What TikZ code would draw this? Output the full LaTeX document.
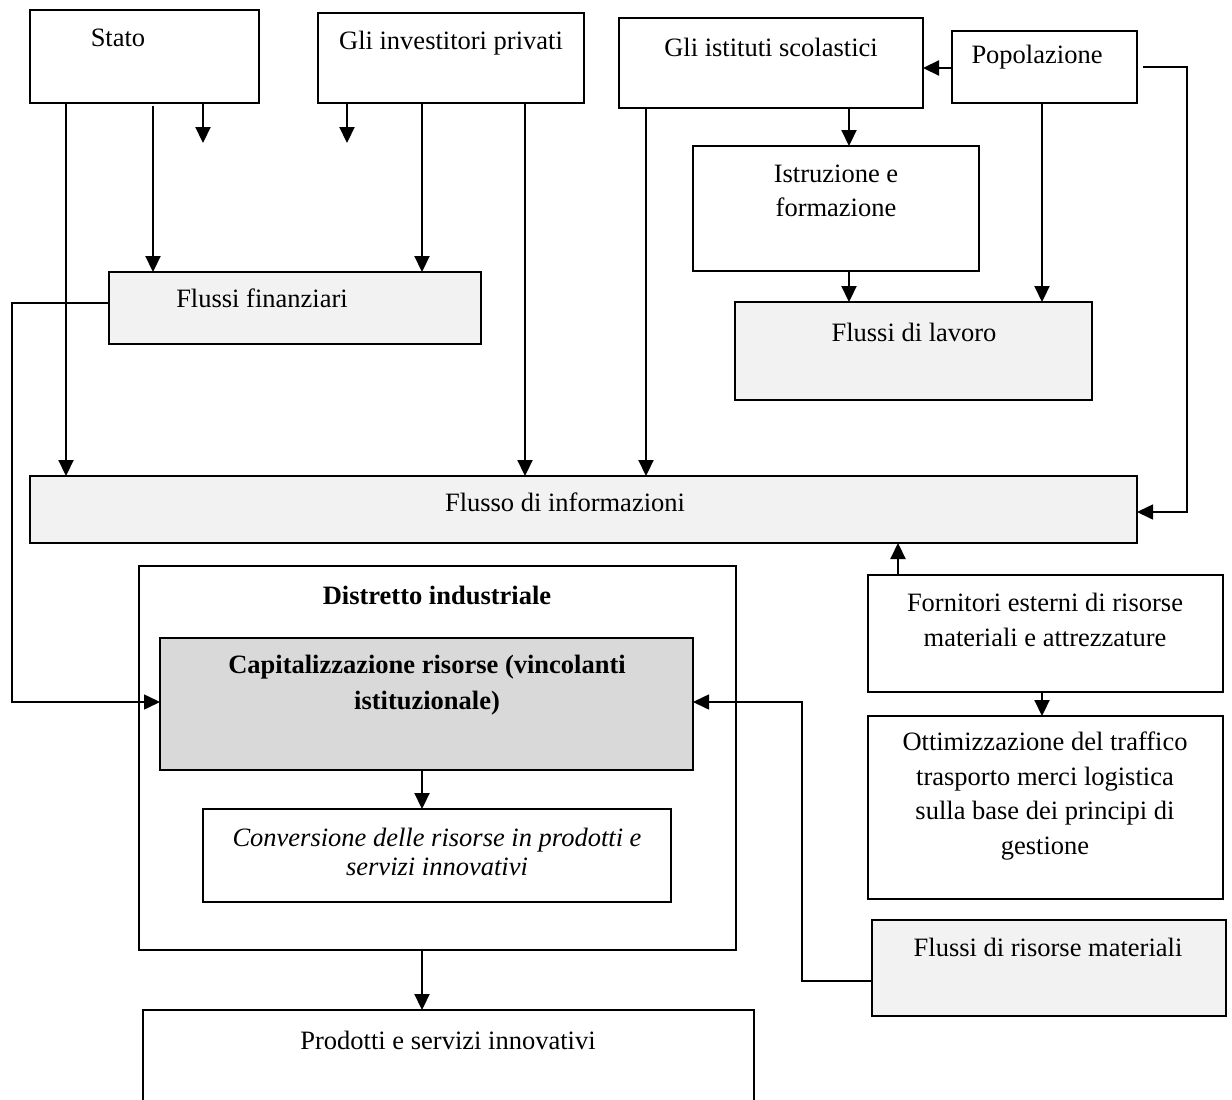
\documentclass[tikz,border=0pt]{standalone}
\usepackage{fontspec}
\setmainfont{Liberation Serif}
\usetikzlibrary{arrows.meta}
\definecolor{lightfill}{HTML}{F2F2F2}
\definecolor{midfill}{HTML}{D9D9D9}
\newcommand{\mybox}[6]{\node[boxst,fill=#6,minimum width={(#4-#2)*1pt},minimum height={(#5-#3)*1pt}] (#1) at ({(#2+#4)/2},{(#3+#5)/2}) {};}
\begin{document}
\begin{tikzpicture}[x=1pt,y=-1pt,
  boxst/.style={draw,line width=1.8pt,inner sep=0pt,outer sep=0pt,rectangle},
  txt/.style={font=\fontsize{26.5}{34.5}\selectfont,align=center,inner sep=0pt},
  arr/.style={line width=2.2pt,-{Triangle[length=16pt,width=15pt]}},
  routearr/.style={line width=1.6pt,-{Triangle[length=16pt,width=15pt]}}]
\useasboundingbox[fill=white] (0,0) rectangle (1232,1100);
\begin{scope}
\clip (0,0) rectangle (1232,1100);
% boxes
\mybox{stato}{30}{10}{259}{103}{white}
\mybox{inv}{318}{13}{584}{103}{white}
\mybox{ist}{619}{18}{923}{108}{white}
\mybox{pop}{952}{31}{1137}{103}{white}
\mybox{istr}{693}{146}{979}{271}{white}
\mybox{ff}{109}{272}{481}{344}{lightfill}
\mybox{fl}{735}{302}{1092}{400}{lightfill}
\mybox{info}{30}{476}{1137}{543}{lightfill}
\mybox{distr}{139}{566}{736}{950}{white}
\mybox{cap}{160}{638}{693}{770}{midfill}
\mybox{conv}{203}{809}{671}{902}{white}
\mybox{prod}{143}{1010}{754}{1120}{white}
\mybox{forn}{868}{575}{1223}{692}{white}
\mybox{ottim}{868}{716}{1223}{899}{white}
\mybox{frm}{872}{920}{1226}{1016}{lightfill}
\end{scope}
% texts
\node[txt] (tstato) at (118,38) {Stato};
\node[txt] (tinv) at (451,43) {Gli investitori privati};
\node[txt] (tist) at (771,47) {Gli istituti scolastici};
\node[txt] (tpop) at (1037,57) {Popolazione};
\node[txt] (tistr) at (836,191) {Istruzione e\\formazione};
\node[txt] (tff) at (262,298) {Flussi finanziari};
\node[txt] (tfl) at (914,332) {Flussi di lavoro};
\node[txt] (tinfo) at (565,502) {Flusso di informazioni};
\node[txt,font=\fontsize{26.5}{36}\selectfont\bfseries] (tdistr) at (437,595) {Distretto industriale};
\node[txt,font=\fontsize{26.5}{36}\selectfont\bfseries] (tcap) at (427,685) {Capitalizzazione risorse (vincolanti\\istituzionale)};
\node[txt,font=\fontsize{26.5}{29}\selectfont\itshape] (tconv) at (437,852) {Conversione delle risorse in prodotti e\\servizi innovativi};
\node[txt] (tprod) at (448,1040) {Prodotti e servizi innovativi};
\node[txt] (tforn) at (1045,620) {Fornitori esterni di risorse\\materiali e attrezzature};
\node[txt] (tottim) at (1045,796) {Ottimizzazione del traffico\\trasporto merci logistica\\sulla base dei principi di\\gestione};
\node[txt] (tfrm) at (1048,947) {Flussi di risorse materiali};
% free ends
\coordinate (s3end) at (203,143);
\coordinate (i1end) at (347,143);
% connectors
\draw[arr] (66,0 |- stato.south) -- (66,0 |- info.north);
\draw[arr] (153,106) -- (153,0 |- ff.north);
\draw[arr] (203,0 |- stato.south) -- (s3end);
\draw[arr] (347,0 |- inv.south) -- (i1end);
\draw[arr] (422,0 |- inv.south) -- (422,0 |- ff.north);
\draw[arr] (525,0 |- inv.south) -- (525,0 |- info.north);
\draw[arr] (646,0 |- ist.south) -- (646,0 |- info.north);
\draw[arr] (849,0 |- ist.south) -- (849,0 |- istr.north);
\draw[arr] (0,68 -| pop.west) -- (0,68 -| ist.east);
\draw[arr] (1042,0 |- pop.south) -- (1042,0 |- fl.north);
\draw[routearr] (1143,67) -- (1187,67) -- (1187,512) -- (0,512 -| info.east);
\draw[arr] (849,0 |- istr.south) -- (849,0 |- fl.north);
\draw[routearr] (0,303 -| ff.west) -- (12,303) -- (12,702) -- (0,702 -| cap.west);
\draw[arr] (898,0 |- forn.north) -- (898,0 |- info.south);
\draw[arr] (1042,0 |- forn.south) -- (1042,0 |- ottim.north);
\draw[arr] (422,0 |- cap.south) -- (422,0 |- conv.north);
\draw[arr] (422,0 |- distr.south) -- (422,0 |- prod.north);
\draw[routearr] (0,981 -| frm.west) -- (802,981) -- (802,702) -- (0,702 -| cap.east);
\end{tikzpicture}
\end{document}
